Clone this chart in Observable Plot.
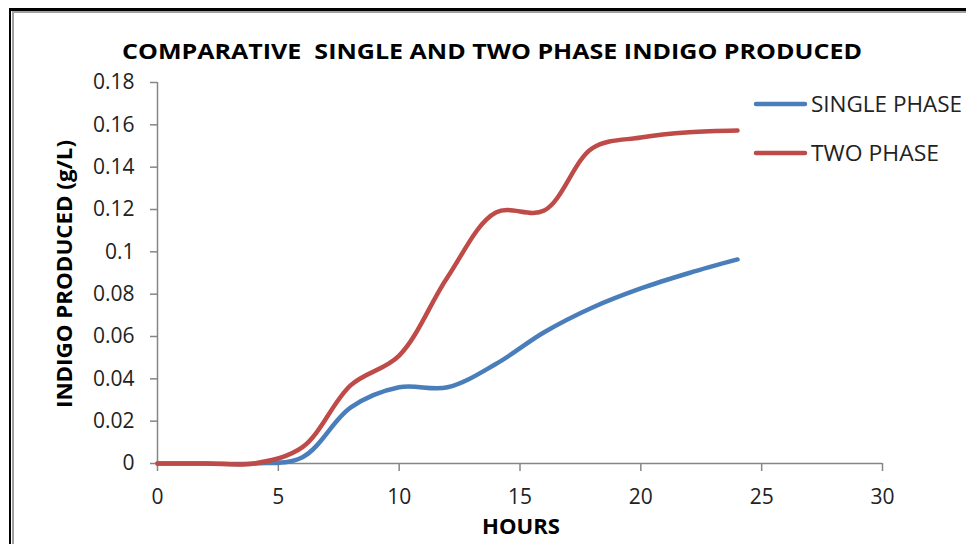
<!DOCTYPE html>
<html>
<head>
<meta charset="utf-8">
<script src="https://cdn.jsdelivr.net/npm/d3@7"></script>
<script src="https://cdn.jsdelivr.net/npm/@observablehq/plot@0.6"></script>
<style>
  html, body { margin: 0; padding: 0; background: #fff; }
  #wrap { position: relative; width: 966px; height: 544px; overflow: hidden; }
  #chart { position: absolute; left: 0; top: 0; }
  .b1 { position: absolute; left: 9px; top: 8px; width: 2000px; height: 2000px; border-left: 2px solid #000; border-top: 3px solid #000; }
  .b2 { position: absolute; left: 12px; top: 11px; width: 2000px; height: 2000px; border-left: 2px solid #a0a0a0; border-top: 2px solid #a0a0a0; }
</style>
</head>
<body>
<div id="wrap"><div id="chart"></div><div class="b1"></div><div class="b2"></div></div>
<script>
const hours = [0, 2, 4, 6, 8, 10, 12, 14, 16, 18, 20, 22, 24];
const singlePhase = [0, 0, 0, 0.003, 0.0265, 0.036, 0.036, 0.047, 0.062, 0.0737, 0.0827, 0.090, 0.0964];
const twoPhase = [0, 0, 0, 0.0077, 0.037, 0.051, 0.088, 0.1186, 0.1195, 0.149, 0.154, 0.1565, 0.1573];
const seriesNames = ["SINGLE PHASE", "TWO PHASE"];
const seriesColors = ["#4a7ebb", "#be4b48"];
const xTicks = [0, 5, 10, 15, 20, 25, 30];
const yTicks = [0, 0.02, 0.04, 0.06, 0.08, 0.1, 0.12, 0.14, 0.16, 0.18];
const titleText = "COMPARATIVE  SINGLE AND TWO PHASE INDIGO PRODUCED";
const xLabel = "HOURS";
const yLabel = "INDIGO PRODUCED (g/L)";

const rows = [];
hours.forEach((h, i) => {
  rows.push({hour: h, value: singlePhase[i], series: seriesNames[0]});
  rows.push({hour: h, value: twoPhase[i], series: seriesNames[1]});
});

const font = "'Open Sans', 'Noto Sans', sans-serif";
const axisGray = "#868686";

const chart = Plot.plot({
  width: 966,
  height: 544,
  marginLeft: 157,
  marginRight: 84,
  marginTop: 82,
  marginBottom: 81,
  style: {fontFamily: font, fontSize: "21px", color: "#222", background: "transparent", overflow: "visible"},
  x: {domain: [0, 30], ticks: xTicks, label: null},
  y: {domain: [0, 0.18], ticks: yTicks, label: null},
  color: {domain: seriesNames, range: seriesColors},
  marks: [
    Plot.ruleY([0], {stroke: axisGray, strokeWidth: 1.5}),
    Plot.ruleX([0], {stroke: axisGray, strokeWidth: 1.5}),
    Plot.axisX({ticks: xTicks, tickSize: 8, tickPadding: 18, stroke: axisGray, strokeWidth: 1.5, strokeOpacity: 1, fill: "#222", tickFormat: d => String(d), label: null}),
    Plot.axisY({ticks: yTicks, tickSize: 7, tickPadding: 16, stroke: axisGray, strokeWidth: 1.5, strokeOpacity: 1, fill: "#222", tickFormat: d => String(+d.toFixed(2)), label: null}),
    Plot.line(rows, {x: "hour", y: "value", z: "series", stroke: "series", strokeWidth: 4.5, curve: "catmull-rom", strokeLinecap: "round"})
  ]
});

document.getElementById("chart").appendChild(chart);

const svg = d3.select(chart);
svg.append("text")
  .attr("x", 492).attr("y", 59)
  .attr("text-anchor", "middle")
  .attr("font-family", font).attr("font-weight", "bold").attr("font-size", 22)
  .attr("fill", "#000")
  .attr("textLength", 740).attr("lengthAdjust", "spacingAndGlyphs")
  .style("white-space", "pre")
  .text(titleText);

svg.append("text")
  .attr("x", 521).attr("y", 534)
  .attr("text-anchor", "middle")
  .attr("font-family", font).attr("font-weight", "bold").attr("font-size", 21)
  .attr("fill", "#000")
  .attr("textLength", 78).attr("lengthAdjust", "spacingAndGlyphs")
  .text(xLabel);

svg.append("text")
  .attr("transform", "translate(72,274) rotate(-90)")
  .attr("text-anchor", "middle")
  .attr("font-family", font).attr("font-weight", "bold").attr("font-size", 21)
  .attr("fill", "#000")
  .attr("textLength", 268).attr("lengthAdjust", "spacingAndGlyphs")
  .text(yLabel);

const legendY = [104, 153];
const legendLen = [151, 128];
seriesNames.forEach((name, i) => {
  svg.append("line")
    .attr("x1", 756).attr("x2", 805)
    .attr("y1", legendY[i]).attr("y2", legendY[i])
    .attr("stroke", seriesColors[i]).attr("stroke-width", 4.5).attr("stroke-linecap", "round");
  svg.append("text")
    .attr("x", 811).attr("y", legendY[i] + 7.5)
    .attr("text-anchor", "start")
    .attr("font-family", font).attr("font-size", 21)
    .attr("fill", "#222")
    .attr("textLength", legendLen[i]).attr("lengthAdjust", "spacingAndGlyphs")
    .text(name);
});
</script>
</body>
</html>
